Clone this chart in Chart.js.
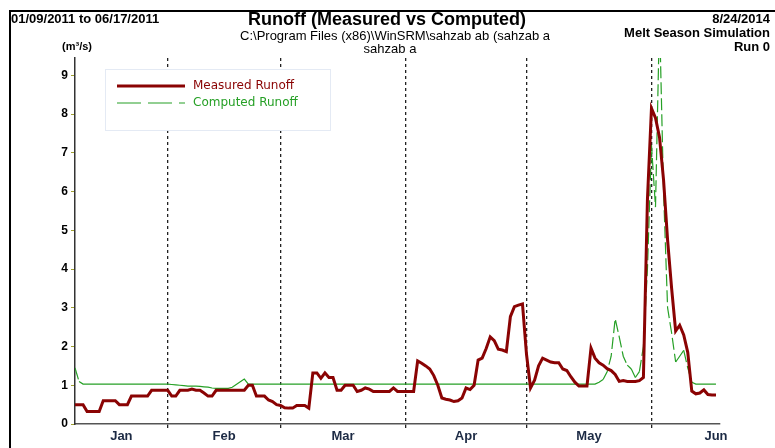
<!DOCTYPE html>
<html>
<head>
<meta charset="utf-8">
<script src="https://cdn.jsdelivr.net/npm/chart.js@4.4.1/dist/chart.umd.min.js"></script>
<style>
	body { margin: 0; background: #fff; }
	canvas { display: block; }
</style>
</head>
<body>
<canvas id="runoffChart" width="775" height="448"></canvas>
<script>
// Days counted from 01/09/2011 (day 0) to 06/17/2011 (day 159)
const monthStarts = [23, 51, 82, 112, 143]; // Feb 1, Mar 1, Apr 1, May 1, Jun 1
const monthLabels = ['Jan', 'Feb', 'Mar', 'Apr', 'May', 'Jun'];
const monthLabelDays = [11.5, 37, 66.5, 97, 127.5, 159];

// Measured runoff (m3/s), one value per day
const measured = [
	0.5, 0.5, 0.5, 0.32, 0.32, 0.32, 0.32, 0.6, 0.6, 0.6,
	0.6, 0.5, 0.5, 0.5, 0.72, 0.72, 0.72, 0.72, 0.72, 0.87,
	0.87, 0.87, 0.87, 0.87, 0.72, 0.72, 0.87, 0.87, 0.87, 0.9,
	0.87, 0.87, 0.8, 0.72, 0.72, 0.87, 0.87, 0.87, 0.87, 0.87,
	0.87, 0.87, 0.87, 1.0, 1.0, 0.72, 0.72, 0.72, 0.62, 0.58,
	0.5, 0.48, 0.42, 0.41, 0.41, 0.48, 0.48, 0.48, 0.41, 1.32,
	1.32, 1.18, 1.32, 1.2, 1.2, 0.87, 0.87, 1.0, 1.0, 1.0,
	0.84, 0.87, 0.93, 0.9, 0.84, 0.84, 0.84, 0.84, 0.84, 0.93,
	0.84, 0.84, 0.84, 0.84, 0.84, 1.63, 1.57, 1.5, 1.42, 1.25,
	1.0, 0.67, 0.64, 0.62, 0.58, 0.6, 0.67, 0.93, 0.89, 1.0,
	1.65, 1.7, 1.95, 2.25, 2.15, 1.93, 1.91, 1.87, 2.77, 3.03,
	3.07, 3.1, 1.8, 0.93, 1.13, 1.5, 1.7, 1.65, 1.6, 1.58,
	1.58, 1.42, 1.38, 1.22, 1.08, 0.98, 0.98, 0.98, 1.96, 1.7,
	1.58, 1.52, 1.43, 1.38, 1.28, 1.1, 1.12, 1.1, 1.1, 1.1,
	1.12, 1.2, 5.8, 8.15, 7.9, 7.4, 6.3, 4.75, 3.5, 2.4,
	2.55, 2.3, 1.85, 0.85, 0.78, 0.8, 0.88, 0.76, 0.75, 0.75
];

// Computed runoff (m3/s), one value per day
const computed = [
	1.45, 1.1, 1.03, 1.03, 1.03, 1.03, 1.03, 1.03, 1.03, 1.03,
	1.03, 1.03, 1.03, 1.03, 1.03, 1.03, 1.03, 1.03, 1.03, 1.03,
	1.03, 1.03, 1.03, 1.03, 1.02, 1.01, 1.0, 0.99, 0.98, 0.98,
	0.98, 0.97, 0.96, 0.95, 0.93, 0.92, 0.92, 0.92, 0.92, 0.95,
	1.02, 1.09, 1.16, 1.03, 1.03, 1.03, 1.03, 1.03, 1.03, 1.03,
	1.03, 1.03, 1.03, 1.03, 1.03, 1.03, 1.03, 1.03, 1.03, 1.03,
	1.03, 1.03, 1.03, 1.03, 1.03, 1.03, 1.03, 1.03, 1.03, 1.03,
	1.03, 1.03, 1.03, 1.03, 1.03, 1.03, 1.03, 1.03, 1.03, 1.03,
	1.03, 1.03, 1.03, 1.03, 1.03, 1.03, 1.03, 1.03, 1.03, 1.03,
	1.03, 1.03, 1.03, 1.03, 1.03, 1.03, 1.03, 1.03, 1.03, 1.03,
	1.03, 1.03, 1.03, 1.03, 1.03, 1.03, 1.03, 1.03, 1.03, 1.03,
	1.03, 1.03, 1.03, 1.03, 1.03, 1.03, 1.03, 1.03, 1.03, 1.03,
	1.03, 1.03, 1.03, 1.03, 1.03, 1.03, 1.03, 1.03, 1.03, 1.03,
	1.08, 1.15, 1.35, 1.75, 2.72, 2.25, 1.75, 1.52, 1.42, 1.2,
	1.35, 2.0, 4.0, 7.2, 5.6, 10.5, 6.0, 3.0, 2.35, 1.6,
	1.75, 1.9, 1.45, 1.08, 1.03, 1.03, 1.03, 1.03, 1.03, 1.03
];

const yTicks = [0, 1, 2, 3, 4, 5, 6, 7, 8, 9];

const FONT = "'Liberation Sans', Arial, sans-serif";
const RED = '#8a0303';
const GREEN = '#26a026';

// Header texts, legend and frame
const decorations = {
	id: 'decorations',
	afterDraw(chart) {
		const ctx = chart.ctx;
		ctx.save();

		// frame lines
		ctx.strokeStyle = '#000';
		ctx.lineWidth = 2;
		ctx.beginPath();
		ctx.moveTo(10, 448);
		ctx.lineTo(10, 11);
		ctx.lineTo(775, 11);
		ctx.stroke();

		ctx.fillStyle = '#000';
		ctx.textBaseline = 'middle';

		ctx.font = 'bold 13px ' + FONT;
		ctx.textAlign = 'left';
		ctx.fillText('01/09/2011 to 06/17/2011', 11, 19);

		ctx.textAlign = 'right';
		ctx.fillText('8/24/2014', 770, 19);
		ctx.fillText('Melt Season Simulation', 770, 33);
		ctx.fillText('Run 0', 770, 47);

		ctx.textAlign = 'center';
		ctx.font = 'bold 18px ' + FONT;
		ctx.fillText('Runoff (Measured vs Computed)', 387, 20);
		ctx.font = '13px ' + FONT;
		ctx.fillText('C:\\Program Files (x86)\\WinSRM\\sahzab ab (sahzab a', 395, 36);
		ctx.fillText('sahzab a', 390, 49);

		ctx.font = 'bold 11px ' + FONT;
		ctx.fillText('(m\u00b3/s)', 77, 47);

		// legend
		ctx.fillStyle = '#fff';
		ctx.fillRect(105, 69, 225, 61);
		ctx.strokeStyle = '#e4eaf4';
		ctx.lineWidth = 1;
		ctx.strokeRect(105.5, 69.5, 225, 61);

		chart.data.datasets.forEach((ds, i) => {
			const y = 86 + i * 17;
			ctx.strokeStyle = ds.borderColor;
			ctx.lineWidth = i === 0 ? 3 : 1.2;
			ctx.setLineDash(i === 0 ? [] : [24, 7]);
			ctx.beginPath();
			ctx.moveTo(117, y);
			ctx.lineTo(185, y);
			ctx.stroke();
			ctx.setLineDash([]);
			ctx.fillStyle = ds.borderColor;
			ctx.font = "12px 'DejaVu Sans', sans-serif";
			ctx.textAlign = 'left';
			ctx.fillText(ds.label, 193, y);
		});

		ctx.restore();
	},
};

const ctxRunoff = document.getElementById('runoffChart').getContext('2d');

const runoffChart = new Chart(ctxRunoff, {
	type: 'line',
	data: {
		datasets: [
			{
				label: 'Measured Runoff',
				data: measured.map((v, i) => ({ x: i, y: v })),
				borderColor: RED,
				borderWidth: 3,
				pointRadius: 0,
				tension: 0,
			},
			{
				label: 'Computed Runoff',
				data: computed.map((v, i) => ({ x: i, y: v })),
				borderColor: GREEN,
				borderWidth: 1.2,
				pointRadius: 0,
				tension: 0,
				segment: {
					// long steep pieces show the dash, short flat ones look solid
					borderDash: (c) => (Math.abs(c.p1.y - c.p0.y) > 6 ? [12, 4] : undefined),
				},
			},
		],
	},
	options: {
		responsive: false,
		animation: false,
		devicePixelRatio: 1,
		layout: { padding: { left: 10, top: 58, right: 55, bottom: 0 } },
		plugins: {
			legend: { display: false },
			tooltip: { enabled: false },
		},
		scales: {
			x: {
				type: 'linear',
				min: 0,
				max: 160,
				afterBuildTicks: (scale) => {
					scale.ticks = monthStarts
						.concat(monthLabelDays)
						.sort((a, b) => a - b)
						.map((v) => ({ value: v }));
				},
				afterFit: (scale) => {
					scale.height = 24;
				},
				ticks: {
					autoSkip: false,
					maxRotation: 0,
					padding: 1,
					color: '#1c2a44',
					font: { family: FONT, size: 13, weight: 'bold' },
					callback: (value) => {
						const i = monthLabelDays.indexOf(value);
						return i >= 0 ? monthLabels[i] : '';
					},
				},
				grid: {
					color: (c) =>
						c.tick && monthStarts.includes(c.tick.value) ? '#222' : 'rgba(0,0,0,0)',
					lineWidth: 1.3,
					tickLength: 4,
				},
				border: { color: '#555', width: 1.5, dash: [3, 3] },
			},
			y: {
				min: 0,
				max: 9.45,
				afterBuildTicks: (scale) => {
					scale.ticks = yTicks.map((v) => ({ value: v }));
				},
				afterFit: (scale) => {
					scale.width = 65;
				},
				ticks: {
					padding: 3,
					color: '#000',
					font: { family: FONT, size: 12, weight: 'bold' },
				},
				grid: {
					drawOnChartArea: false,
					tickLength: 4,
					tickColor: '#a0a030',
					color: '#a0a030',
				},
				border: { color: '#333', width: 1.5 },
			},
		},
	},
	plugins: [decorations],
});
</script>
</body>
</html>
